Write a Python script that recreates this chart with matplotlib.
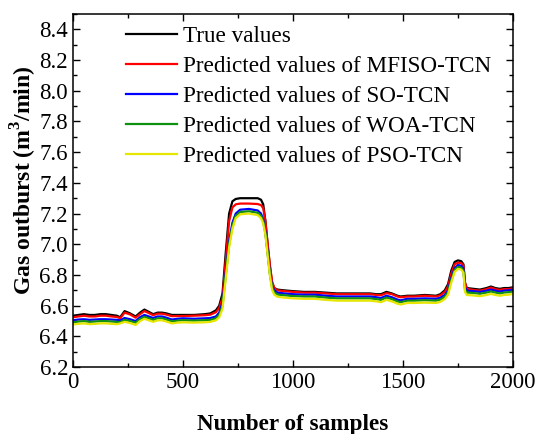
import matplotlib
matplotlib.use("Agg")
import matplotlib.pyplot as plt
from matplotlib.ticker import MultipleLocator

# Sample indices where the curves were read
samples = [0, 25, 50, 75, 100, 125, 150, 175, 200, 215, 235, 260, 285, 305, 325,
           345, 365, 385, 405, 425, 450, 475, 500, 550, 600, 625, 650, 665, 680,
           695, 710, 725, 740, 760, 800, 840, 855, 865, 875, 885, 895, 905, 915,
           930, 960, 1000, 1050, 1100, 1150, 1200, 1250, 1300, 1350, 1380, 1400,
           1425, 1450, 1475, 1490, 1520, 1550, 1600, 1650, 1670, 1690, 1705, 1720,
           1735, 1750, 1765, 1775, 1782, 1790, 1820, 1850, 1880, 1900, 1920, 1940,
           1960, 1980, 2000]

true_vals = [6.535, 6.54, 6.545, 6.54, 6.54, 6.545, 6.545, 6.54, 6.535, 6.525, 6.565,
             6.55, 6.53, 6.555, 6.575, 6.56, 6.545, 6.555, 6.555, 6.55, 6.54, 6.54,
             6.54, 6.54, 6.545, 6.55, 6.57, 6.6, 6.68, 6.95, 7.2, 7.28, 7.295, 7.3,
             7.3, 7.3, 7.29, 7.26, 7.15, 7.0, 6.86, 6.75, 6.715, 6.705, 6.7, 6.695,
             6.69, 6.69, 6.685, 6.68, 6.68, 6.68, 6.68, 6.675, 6.675, 6.69, 6.68,
             6.665, 6.66, 6.665, 6.665, 6.67, 6.665, 6.675, 6.7, 6.74, 6.83, 6.885,
             6.895, 6.89, 6.87, 6.75, 6.715, 6.71, 6.705, 6.715, 6.725, 6.715, 6.71,
             6.715, 6.715, 6.72]

mfiso_vals = [6.525, 6.53, 6.535, 6.53, 6.53, 6.535, 6.535, 6.53, 6.527, 6.518, 6.555,
              6.543, 6.522, 6.545, 6.565, 6.552, 6.538, 6.548, 6.548, 6.542, 6.532,
              6.533, 6.533, 6.535, 6.538, 6.542, 6.558, 6.585, 6.65, 6.9, 7.15, 7.24,
              7.26, 7.265, 7.265, 7.262, 7.255, 7.235, 7.15, 7.0, 6.87, 6.76, 6.715,
              6.7, 6.695, 6.69, 6.685, 6.685, 6.68, 6.675, 6.675, 6.675, 6.675, 6.67,
              6.668, 6.682, 6.675, 6.66, 6.655, 6.66, 6.66, 6.665, 6.66, 6.668, 6.69,
              6.725, 6.81, 6.87, 6.88, 6.878, 6.86, 6.75, 6.71, 6.703, 6.698, 6.708,
              6.718, 6.708, 6.703, 6.708, 6.708, 6.713]

so_vals = [6.505, 6.51, 6.512, 6.508, 6.51, 6.512, 6.512, 6.51, 6.508, 6.505, 6.52,
           6.512, 6.5, 6.525, 6.54, 6.53, 6.52, 6.53, 6.53, 6.522, 6.51, 6.515, 6.518,
           6.515, 6.518, 6.52, 6.53, 6.555, 6.62, 6.82, 7.02, 7.14, 7.2, 7.225, 7.23,
           7.22, 7.2, 7.16, 7.08, 6.95, 6.82, 6.73, 6.7, 6.685, 6.68, 6.675, 6.672,
           6.672, 6.665, 6.66, 6.66, 6.66, 6.66, 6.655, 6.65, 6.665, 6.655, 6.64,
           6.635, 6.645, 6.645, 6.648, 6.645, 6.652, 6.67, 6.7, 6.78, 6.845, 6.865,
           6.86, 6.84, 6.72, 6.698, 6.695, 6.69, 6.698, 6.705, 6.698, 6.692, 6.698,
           6.7, 6.705]

woa_vals = [6.492, 6.497, 6.5, 6.495, 6.497, 6.5, 6.5, 6.497, 6.495, 6.493, 6.508,
            6.5, 6.49, 6.513, 6.528, 6.518, 6.508, 6.518, 6.518, 6.51, 6.498, 6.503,
            6.506, 6.503, 6.506, 6.508, 6.518, 6.54, 6.6, 6.8, 7.0, 7.12, 7.185, 7.21,
            7.215, 7.205, 7.185, 7.15, 7.07, 6.94, 6.81, 6.72, 6.688, 6.673, 6.668,
            6.663, 6.66, 6.66, 6.653, 6.648, 6.648, 6.648, 6.648, 6.643, 6.638, 6.653,
            6.643, 6.628, 6.623, 6.633, 6.633, 6.636, 6.633, 6.64, 6.658, 6.688, 6.768,
            6.833, 6.853, 6.848, 6.828, 6.705, 6.686, 6.683, 6.678, 6.686, 6.693,
            6.686, 6.68, 6.686, 6.688, 6.693]

pso_vals = [6.478, 6.482, 6.485, 6.48, 6.482, 6.485, 6.485, 6.482, 6.48, 6.485, 6.495,
            6.487, 6.475, 6.5, 6.515, 6.505, 6.495, 6.505, 6.505, 6.497, 6.485, 6.49,
            6.492, 6.49, 6.492, 6.495, 6.505, 6.525, 6.58, 6.78, 6.98, 7.1, 7.17,
            7.195, 7.2, 7.19, 7.17, 7.135, 7.06, 6.93, 6.8, 6.705, 6.672, 6.658,
            6.653, 6.648, 6.645, 6.645, 6.638, 6.633, 6.633, 6.633, 6.633, 6.628,
            6.623, 6.638, 6.628, 6.613, 6.608, 6.618, 6.618, 6.62, 6.618, 6.625,
            6.643, 6.672, 6.752, 6.82, 6.84, 6.835, 6.815, 6.69, 6.67, 6.667, 6.662,
            6.67, 6.677, 6.67, 6.665, 6.67, 6.672, 6.677]

series_labels = ["True values",
                 "Predicted values of MFISO-TCN",
                 "Predicted values of SO-TCN",
                 "Predicted values of WOA-TCN",
                 "Predicted values of PSO-TCN"]
series_colors = ["black", "#ff0000", "#0000ff", "#109010", "#e6e600"]

plt.rcParams["font.family"] = ["Liberation Serif", "DejaVu Serif"]
plt.rcParams["mathtext.fontset"] = "custom"
plt.rcParams["mathtext.rm"] = "Liberation Serif"
plt.rcParams["mathtext.bf"] = "Liberation Serif:bold"

fig = plt.figure(figsize=(5.36, 4.34), dpi=100)
ax = fig.add_axes([0.136, 0.154, 0.821, 0.814])

all_series = [true_vals, mfiso_vals, so_vals, woa_vals, pso_vals]
for vals, label, color in zip(all_series, series_labels, series_colors):
    ax.plot(samples, vals, color=color, lw=1.6, label=label)

ax.set_xlim(0, 2000)
ax.set_ylim(6.2, 8.5)
ax.xaxis.set_major_locator(MultipleLocator(500))
ax.xaxis.set_minor_locator(MultipleLocator(250))
ax.yaxis.set_major_locator(MultipleLocator(0.2))
ax.yaxis.set_minor_locator(MultipleLocator(0.1))
ax.tick_params(which="both", direction="in", top=True, right=True, labelsize=16.5)
ax.tick_params(which="major", length=5, width=1)
ax.tick_params(which="minor", length=3, width=1)
for spine in ax.spines.values():
    spine.set_linewidth(1.1)

ax.set_xlabel("Number of samples", fontsize=16.7, fontweight="bold", labelpad=15)
ax.set_ylabel(r"Gas outburst (m$^{\mathbf{3}}$/min)", fontsize=17, fontweight="bold")
ax.yaxis.set_label_coords(-0.078, 0.53)

ax.legend(loc="upper left", bbox_to_anchor=(0.09, 1.006), frameon=False, fontsize=16.7,
          handlelength=2.2, handletextpad=0.25, labelspacing=0.38, borderaxespad=0.2)

fig.savefig("out.png", dpi=100)
